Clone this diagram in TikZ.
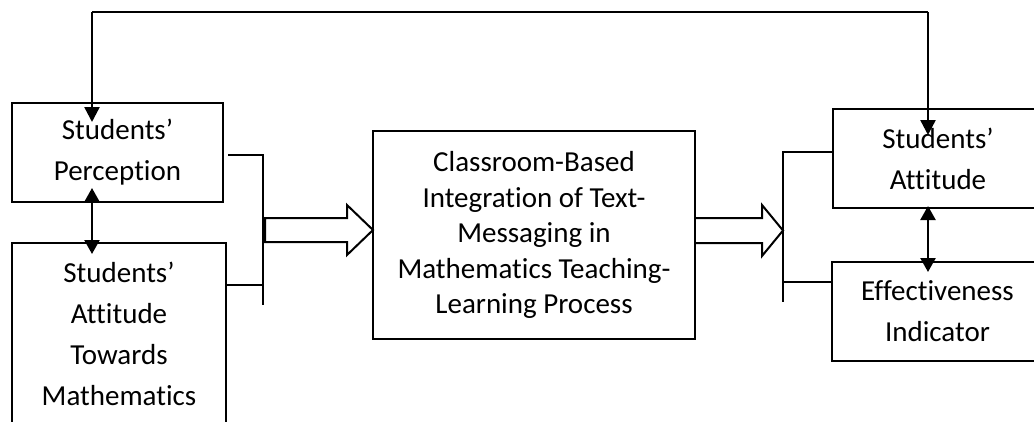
\documentclass[tikz,border=0pt]{standalone}
\usepackage{fontspec}
\setmainfont{Carlito}[Ligatures=NoCommon]
\usetikzlibrary{arrows.meta}
\begin{document}
\begin{tikzpicture}[x=1pt,y=-1pt,
  box/.style={draw,line width=2pt,inner sep=0pt,align=center,
    font=\fontsize{29}{41}\selectfont},
  ln/.style={line width=2pt},
  tri/.style={line width=2.4pt,-{Triangle[length=15pt,width=15pt]}},
  dtri/.style={line width=2.4pt,{Triangle[length=14pt,width=15pt]}-{Triangle[length=14pt,width=15pt]}},
  hollow/.style={draw,line width=2pt,fill=white,line join=miter}
]
\useasboundingbox (0,0) rectangle (1034,421);
\begin{scope}
\clip (0,0) rectangle (1034,421);
% nodes
\node[box,minimum width=211pt,minimum height=99pt] (perc) at (117.5,152.5) {Students’\\Perception};
\node[box,minimum width=214pt,minimum height=181pt] (att) at (119,333.5) {Students’\\Attitude\\Towards\\Mathematics};
\node[box,minimum width=322pt,minimum height=208pt,font=\fontsize{29}{35.5}\selectfont] (cbi) at (534,235) {Classroom-Based\\Integration of Text-\\Messaging in\\Mathematics Teaching-\\Learning Process};
\node[box,minimum width=210pt,minimum height=99pt] (satt) at (938,158.5) {Students’\\Attitude};
\node[box,minimum width=211pt,minimum height=99pt] (eff) at (937.5,311.5) {Effectiveness\\Indicator};

% left bracket
\coordinate (lb1) at (263,155);
\coordinate (lb2) at (263,285);
\coordinate (lbe) at (263,305);
\draw[ln] (perc.east |- lb1) ++(4,0) -- (lb1) -- (lbe);
\draw[ln] (att.east |- lb2) -- (lb2);

% right bracket
\coordinate (rb1) at (783,152);
\coordinate (rb2) at (783,282);
\coordinate (rbe) at (783,302);
\draw[ln] (satt.west |- rb1) -- (rb1) -- (rbe);
\draw[ln] (eff.west |- rb2) -- (rb2);

% hollow arrows
\draw[hollow] (265,218) -- (347,218) -- (347,205) -- (373,230) -- (347,255) -- (347,242) -- (265,242) -- cycle;
\draw[hollow] (cbi.east |- 0,218) -- (762,218) -- (762,205) -- (783,230.5) -- (762,256) -- (762,243) -- (cbi.east |- 0,243);

% feedback line
\coordinate (tl) at (92,12);
\coordinate (tr) at (928,12);
\draw[ln] (tl) -- (tr);
\draw[tri] (tl) -- (92,122);
\draw[tri] (tr) -- (928,135);

% double arrows
\draw[dtri] (92,188) -- (92,254);
\draw[dtri] (928,206) -- (928,272);
\end{scope}
\end{tikzpicture}
\end{document}
